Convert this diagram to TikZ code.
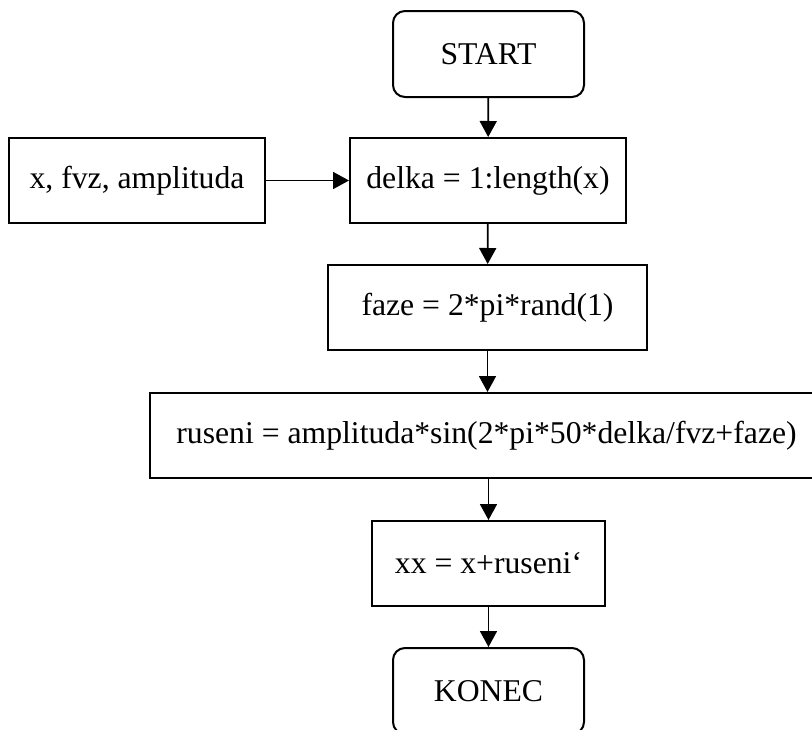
\documentclass[tikz,border=0pt]{standalone}
\usepackage{fontspec}
\setmainfont{Liberation Serif}
\usepackage{tikz}
\usetikzlibrary{positioning,arrows.meta}

\begin{document}
\begin{tikzpicture}[x=1pt,y=-1pt,
  every node/.style={font=\fontsize{31.7pt}{38pt}\selectfont},
  blok/.style={draw,line width=2pt,fill=white,inner sep=0pt,minimum height=85pt},
  term/.style={blok,rounded corners=12pt,minimum width=191pt,minimum height=86pt},
  tok/.style={line width=1.8pt,-{Triangle[width=17pt,length=16pt]}}]
  \useasboundingbox (0,0) rectangle (812,729);
  \clip (0,0) rectangle (812,729);

  % bloky
  \node[term] (start) at (488.5,54) {START};
  \node[blok,minimum width=256pt] (vstup) at (137,180.5) {x, fvz, amplituda};
  \node[blok,minimum width=276pt] (delka) at (488,180.5) {delka = 1:length(x)};
  \node[blok,minimum width=319pt] (faze) at (487.5,307.5) {faze = 2*pi*rand(1)};
  \node[blok,minimum width=673pt] (ruseni) at (486.5,435.5) {ruseni = amplituda*sin(2*pi*50*delka/fvz+faze)};
  \node[blok,minimum width=233pt] (xx) at (488.5,563.5) {xx = x+ruseni‘};
  \node[term] (konec) at (488.5,691) {KONEC};

  % sipky
  \draw[tok] (start) -- (delka);
  \draw[tok] (vstup) -- (delka);
  \draw[tok] (delka) -- (faze);
  \draw[tok] (faze) -- (ruseni.north -| faze.south);
  \draw[tok] (ruseni.south -| xx.north) -- (xx);
  \draw[tok] (xx) -- (konec);
\end{tikzpicture}
\end{document}
